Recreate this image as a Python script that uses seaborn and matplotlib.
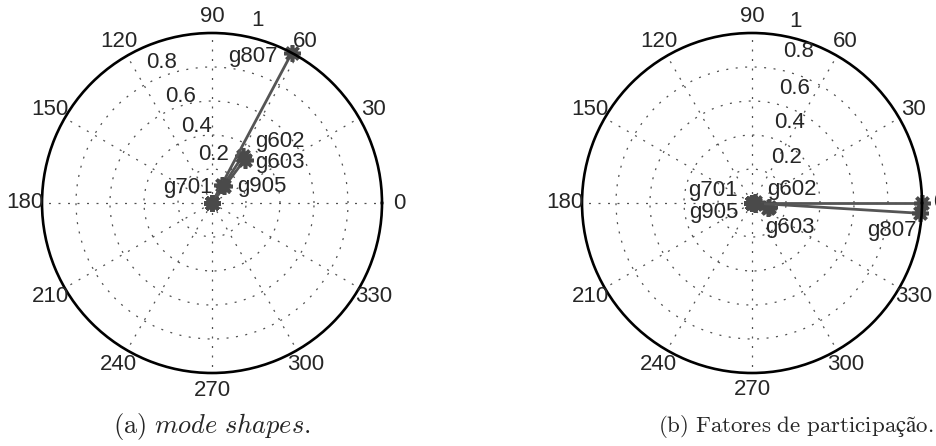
import numpy as np
import pandas as pd
import matplotlib
matplotlib.use("Agg")
import matplotlib.pyplot as plt
import seaborn as sns

# ---- data: magnitude and angle (degrees) per generator ----
gens_a = ["g602", "g603", "g701", "g905", "g807"]
mag_a = [0.33, 0.32, 0.12, 0.12, 1.00]
ang_a = [57, 53, 60, 54, 62]

gens_b = ["g602", "g603", "g701", "g905", "g807", ""]
mag_b = [0.10, 0.10, 0.02, 0.02, 0.99, 1.00]
ang_b = [-12, -18, 10, -10, -3.5, 0]

angle_ticks = [0, 30, 60, 90, 120, 150, 180, 210, 240, 270, 300, 330]
ring_ticks = [0.2, 0.4, 0.6, 0.8, 1.0]
ring_labels = ["0.2", "0.4", "0.6", "0.8", "1"]

captions = [r"$\mathrm{(a)}\ \mathit{mode\ shapes}\mathrm{.}$",
            r"$\mathrm{(b)\ Fatores\ de\ participação.}$"]

# ---- layout / style ----
W, H, DPI = 937, 446, 100
R = 170
centers = [(212, 203), (752, 203)]
line_col = "#555555"
grid_col = "#505050"

# label offsets (pixels) from each generator's marker
offs_a = {"g602": (37, 14), "g603": (35, -3), "g701": (-34, -2),
          "g905": (38, 0), "g807": (-39, -4)}
offs_b = {"g602": (23, 17), "g603": (22, -19), "g701": (-42, 12),
          "g905": (-42, -9), "g807": (-28, -17)}

# placement of the ring value labels (radius, angle in degrees)
ring_pos_a = [(0.283, 87.6), (0.461, 101), (0.65, 106.3), (0.875, 109.7), (1.103, 76.1)]
ring_pos_b = [(0.34, 52.7), (0.526, 64.9), (0.722, 69.5), (0.929, 73), (1.10, 76.7)]

sns.set_style("white")
plt.rcParams["font.family"] = ["Liberation Sans", "DejaVu Sans"]
plt.rcParams["mathtext.fontset"] = "cm"

fig = plt.figure(figsize=(W / DPI, H / DPI), dpi=DPI)


def phasor_frame(gens, mag, ang):
    rows = []
    for g, m, a in zip(gens, mag, ang):
        th = np.deg2rad(a)
        rows.append({"gen": g + str(a), "theta": th, "r": 0.0})
        rows.append({"gen": g + str(a), "theta": th, "r": m})
    return pd.DataFrame(rows)


def draw_panel(cx, cy, gens, mag, ang, offs, ring_pos):
    left = (cx - R) / W
    bottom = (H - (cy + R)) / H
    ax = fig.add_axes([left, bottom, 2 * R / W, 2 * R / H], projection="polar")
    ax.set_ylim(0, 1)
    ax.set_xticks(np.deg2rad(angle_ticks))
    ax.set_xticklabels([])
    ax.set_yticks(ring_ticks[:-1])
    ax.set_yticklabels([])
    ax.grid(True, color=grid_col, linewidth=0.9, linestyle=(0, (1.6, 6)))
    ax.spines["polar"].set_color("black")
    ax.spines["polar"].set_linewidth(1.9)
    ax.tick_params(pad=0, length=0)

    df = phasor_frame(gens, mag, ang)
    sns.lineplot(data=df, x="theta", y="r", units="gen", estimator=None,
                 sort=False, color=line_col, linewidth=2.0, marker=(8, 2, 0),
                 markersize=12, markeredgewidth=2.6, markeredgecolor="#4a4a4a",
                 legend=False, ax=ax)
    for ln in ax.lines:
        ln.set_clip_on(False)
    ax.set_xlabel("")
    ax.set_ylabel("")

    # angle labels
    for a in angle_ticks:
        ax.text(np.deg2rad(a), 1.1, str(a), ha="center", va="center",
                fontsize=16, clip_on=False)
    # ring value labels
    for (rr, aa), txt in zip(ring_pos, ring_labels):
        ax.text(np.deg2rad(aa), rr, txt, ha="center", va="center",
                fontsize=16, clip_on=False)
    # generator names
    for g, m, a in zip(gens, mag, ang):
        if g in offs:
            ax.annotate(g, (np.deg2rad(a), m), xytext=offs[g],
                        textcoords="offset pixels", ha="center", va="center",
                        fontsize=16)
    return ax


draw_panel(*centers[0], gens_a, mag_a, ang_a, offs_a, ring_pos_a)
draw_panel(*centers[1], gens_b, mag_b, ang_b, offs_b, ring_pos_b)

fig.text(212 / W, 1 - 426 / H, captions[0], ha="center", va="center",
         fontsize=19)
fig.text(796 / W, 1 - 426 / H, captions[1], ha="center", va="center",
         fontsize=16.5)

fig.savefig("out.png", dpi=DPI)
